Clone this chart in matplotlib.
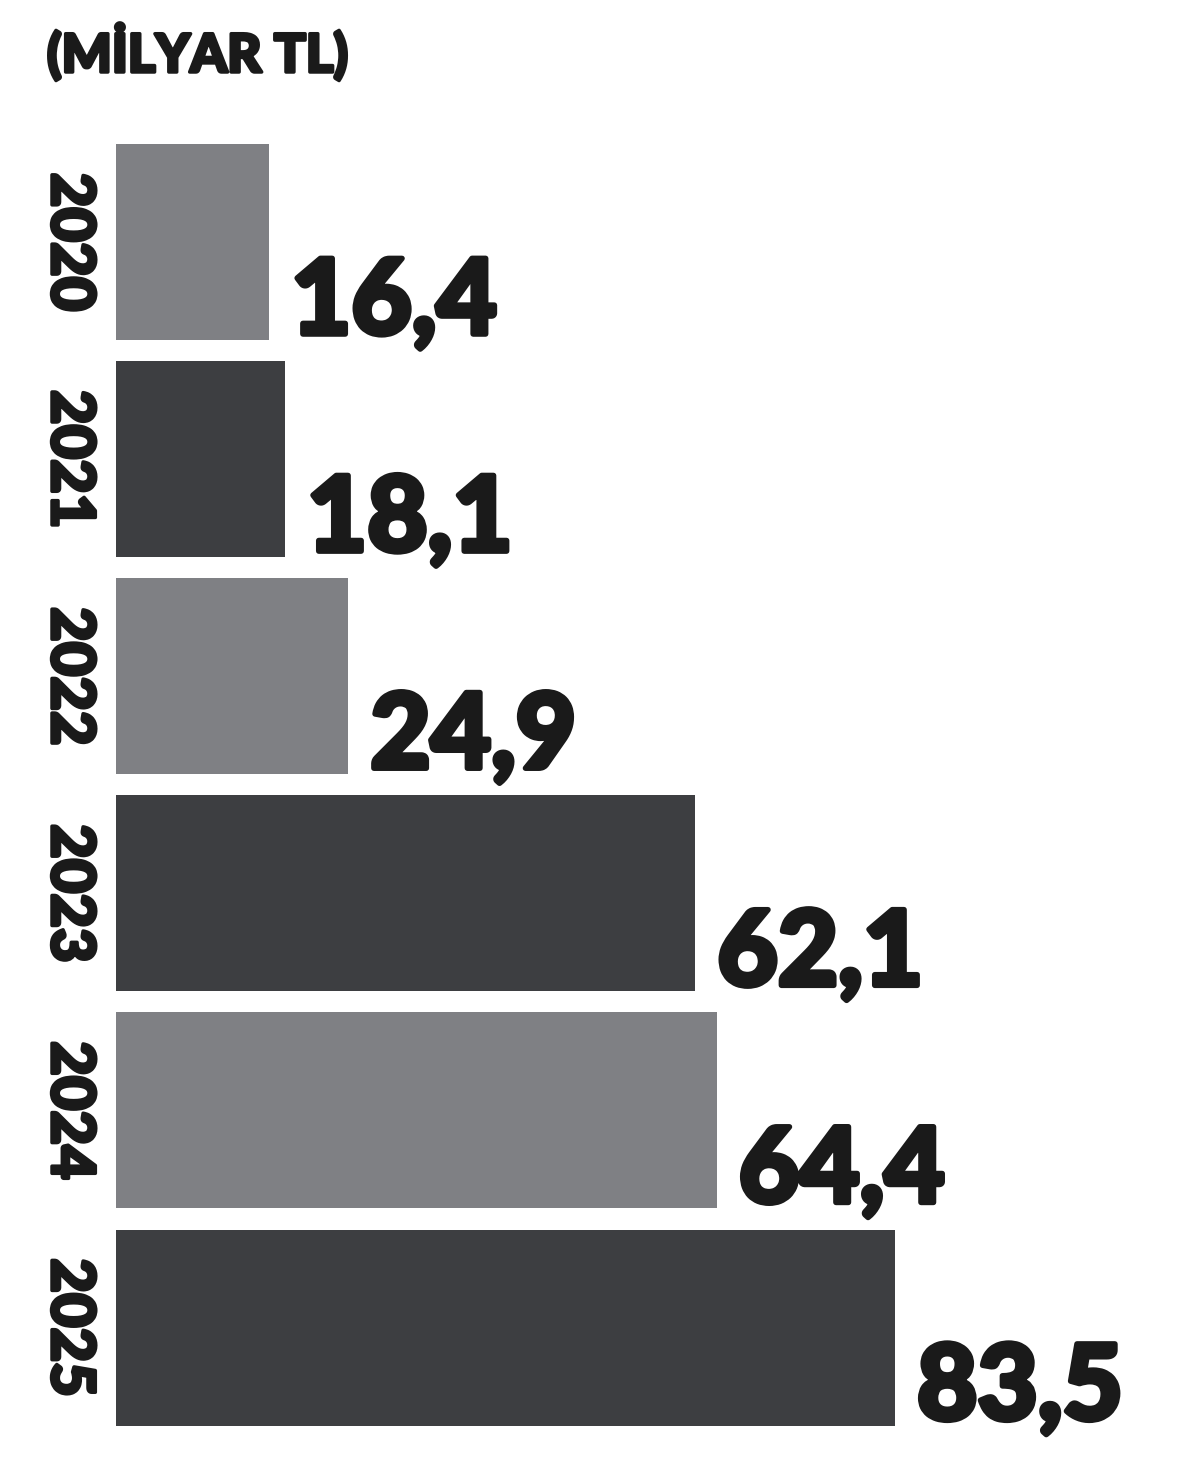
import matplotlib
matplotlib.use("Agg")
import matplotlib.pyplot as plt
import matplotlib.transforms as mtransforms
import matplotlib.patheffects as pe

years = ["2020", "2021", "2022", "2023", "2024", "2025"]
values = [16.4, 18.1, 24.9, 62.1, 64.4, 83.5]
labels = ["16,4", "18,1", "24,9", "62,1", "64,4", "83,5"]
title = "(MİLYAR TL)"

LIGHT = "#7f8084"
DARK = "#3d3e41"
TXT = "#1a1a1a"
colors = [LIGHT, DARK, LIGHT, DARK, LIGHT, DARK]

FONT = "Lato"

W, H = 1200, 1459
fig = plt.figure(figsize=(W / 100, H / 100), dpi=100)
fig.patch.set_facecolor("white")

ax = fig.add_axes([116 / W, 0, (W - 116) / W, 1])
ax.set_xlim(0, (W - 116) / 9.33)
ax.set_ylim((H - 242) / 217.1, -242 / 217.1)
ax.axis("off")

bh = 196 / 217.1
ypos = list(range(len(years)))
ax.barh(ypos, values, height=bh, color=colors, edgecolor="none")

def thick(w):
    return [pe.Stroke(linewidth=w, foreground=TXT), pe.Normal()]

for i, (v, lab) in enumerate(zip(values, labels)):
    tr = mtransforms.offset_copy(ax.transData, fig=fig, x=22, y=6, units="dots")
    ax.text(v, i + bh / 2, lab, transform=tr, ha="left", va="baseline",
            fontsize=75, fontfamily=FONT, fontweight="black", color=TXT,
            path_effects=thick(4))
    tr2 = mtransforms.offset_copy(ax.transData, fig=fig, x=-18, y=0, units="dots")
    ax.text(0, i, years[i], transform=tr2, ha="right", va="center",
            rotation=270, fontsize=43, fontfamily=FONT, fontweight="black",
            color=TXT, path_effects=thick(2.5))

fig.text(47 / W, 1 - 72 / H, title, ha="left", va="baseline", fontsize=38,
         fontfamily=FONT, fontweight="black", color=TXT, path_effects=thick(2.5))

fig.savefig("out.png", dpi=100, facecolor="white")
